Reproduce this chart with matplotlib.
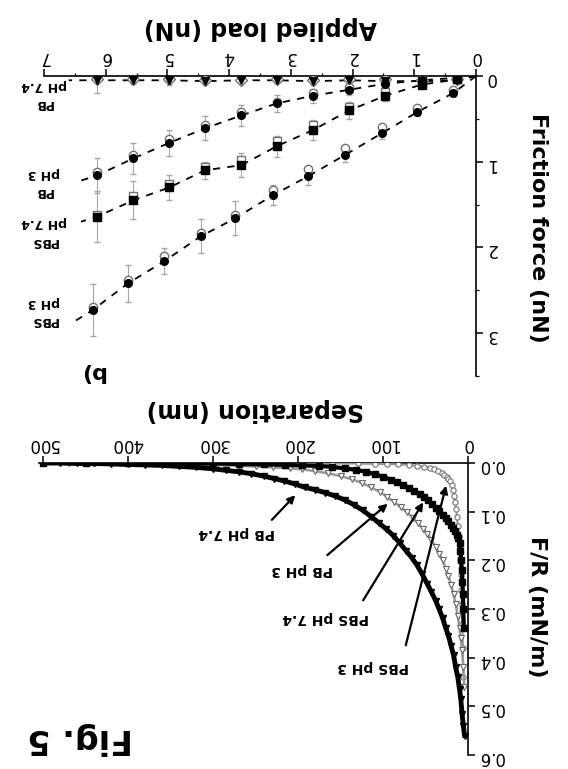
import matplotlib
matplotlib.use("Agg")
from matplotlib import pyplot as plt
from matplotlib.ticker import MultipleLocator

# The whole figure in the reference is printed upside down (rotated 180 deg),
# so both panels are drawn with inverted axes and text turned by 180 deg.

W, H = 568, 769

# ---- panel b: friction force vs applied load (two runs per system)
load = [0.31, 0.88, 1.47, 2.05, 2.64, 3.23, 3.80, 4.39, 4.97, 5.55, 6.14]
load_pbs3 = [0.37, 0.95, 1.53, 2.12, 2.72, 3.29, 3.90, 4.46, 5.05, 5.64, 6.21]

pb74_fill = [0.05, 0.06, 0.06, 0.05, 0.06, 0.05, 0.05, 0.06, 0.05, 0.05, 0.05]
pb74_open = [0.04, 0.05, 0.04, 0.04, 0.05, 0.04, 0.05, 0.05, 0.04, 0.04, 0.04]
pb74_err = [0.02, 0.03, 0.04, 0.05, 0.04, 0.03, 0.03, 0.03, 0.05, 0.04, 0.15]

pb3_fill = [0.02, 0.05, 0.09, 0.16, 0.23, 0.32, 0.46, 0.61, 0.78, 0.96, 1.16]
pb3_open = [0.02, 0.04, 0.08, 0.13, 0.20, 0.30, 0.42, 0.57, 0.73, 0.92, 1.12]
pb3_err = [0.02, 0.03, 0.05, 0.06, 0.08, 0.10, 0.12, 0.14, 0.15, 0.18, 0.20]

pbs74_fill = [0.04, 0.10, 0.23, 0.40, 0.63, 0.82, 1.04, 1.10, 1.30, 1.45, 1.64]
pbs74_open = [0.03, 0.08, 0.19, 0.36, 0.57, 0.76, 0.98, 1.06, 1.26, 1.40, 1.62]
pbs74_err = [0.02, 0.04, 0.06, 0.10, 0.12, 0.12, 0.14, 0.10, 0.15, 0.22, 0.30]

pbs3_fill = [0.20, 0.42, 0.67, 0.92, 1.17, 1.39, 1.66, 1.87, 2.16, 2.42, 2.73]
pbs3_open = [0.16, 0.37, 0.60, 0.84, 1.08, 1.33, 1.62, 1.83, 2.10, 2.38, 2.70]
pbs3_err = [0.03, 0.05, 0.06, 0.08, 0.10, 0.12, 0.20, 0.20, 0.15, 0.22, 0.30]

# where the dashed guide lines stop (near the labels)
dash_end_load = [6.6, 6.4, 6.4, 6.5]
dash_end_fric = [0.05, 1.22, 1.70, 2.86]

names_b = ["PB\npH 7.4", "PB\npH 3", "PBS\npH 7.4", "PBS\npH 3"]
label_fric_b = [0.22, 1.24, 1.82, 2.75]

# ---- panel a: F/R vs separation
sep_pb74 = [500, 480, 460, 440, 420, 400, 380, 360, 340, 320, 300, 285, 270,
            255, 240, 228, 216, 204, 192, 180, 168, 156, 145, 134, 124, 114,
            105, 96, 88, 80, 73, 66, 60, 54, 48, 43, 38, 34, 30, 26, 23, 20,
            17, 14.5, 12, 10, 8.5, 7, 5.5, 4]
fr_pb74 = [0, 0, 0.001, 0.001, 0.002, 0.003, 0.004, 0.005, 0.007, 0.009,
           0.012, 0.015, 0.018, 0.022, 0.027, 0.032, 0.037, 0.043, 0.05,
           0.055, 0.061, 0.068, 0.076, 0.086, 0.097, 0.11, 0.123, 0.136,
           0.149, 0.165, 0.18, 0.195, 0.21, 0.228, 0.248, 0.265, 0.283, 0.30,
           0.318, 0.34, 0.355, 0.375, 0.395, 0.42, 0.44, 0.465, 0.485, 0.515,
           0.54, 0.56]

sep_pb3 = [500, 470, 440, 410, 380, 350, 320, 295, 270, 250, 230, 210, 195,
           180, 165, 150, 137, 125, 114, 104, 95, 87, 79, 72, 65, 59, 53, 48,
           43, 38, 34, 30, 26, 23, 20, 17, 14.5, 12, 10, 8.5, 7, 5.5, 4.5]
fr_pb3 = [0, 0, 0, 0, 0.001, 0.002, 0.003, 0.004, 0.006, 0.007, 0.009, 0.011,
          0.013, 0.017, 0.021, 0.027, 0.033, 0.041, 0.05, 0.059, 0.07, 0.08,
          0.091, 0.101, 0.112, 0.124, 0.135, 0.145, 0.158, 0.172, 0.186, 0.2,
          0.217, 0.232, 0.25, 0.27, 0.29, 0.315, 0.34, 0.36, 0.385, 0.42,
          0.46]

sep_pbs74 = [500, 450, 400, 350, 300, 270, 240, 215, 195, 175, 160, 145, 132,
             120, 110, 100, 91, 83, 76, 69, 63, 57, 52, 47, 42, 38, 34, 30, 26,
             23, 20, 17.5, 15, 13, 11.5, 10, 9, 8, 7.2, 6.5, 6, 5.5, 5]
fr_pbs74 = [0, 0, 0, 0.001, 0.001, 0.002, 0.003, 0.004, 0.005, 0.006, 0.008,
            0.011, 0.014, 0.018, 0.023, 0.028, 0.034, 0.04, 0.046, 0.052,
            0.058, 0.064, 0.07, 0.077, 0.085, 0.092, 0.099, 0.106, 0.113,
            0.12, 0.127, 0.133, 0.14, 0.147, 0.155, 0.165, 0.18, 0.2, 0.22,
            0.245, 0.27, 0.3, 0.34]

sep_pbs3 = [500, 440, 380, 320, 260, 200, 160, 130, 110, 95, 82, 70, 60, 52,
            45, 40, 35, 31, 28, 25, 23, 21, 19, 17.5, 16, 15, 14, 13, 12, 11,
            10, 9.2, 8.5, 7.8, 7.2, 6.6, 6, 5.5]
fr_pbs3 = [0, 0, 0, 0, 0, 0, 0.001, 0.001, 0.002, 0.002, 0.003, 0.004, 0.006,
           0.008, 0.01, 0.013, 0.016, 0.02, 0.024, 0.028, 0.032, 0.037, 0.045,
           0.055, 0.068, 0.08, 0.095, 0.11, 0.13, 0.15, 0.175, 0.2, 0.23,
           0.26, 0.29, 0.33, 0.38, 0.44]

names_a = ["PB pH 7.4", "PB pH 3", "PBS pH 7.4", "PBS pH 3"]
text_a = [(272, 0.144), (195, 0.22), (168, 0.318), (112, 0.419)]
arrow_tail = [(233, 0.121), (168, 0.193), (125, 0.287), (74, 0.38)]
arrow_head = [(201, 0.062), (92, 0.08), (51, 0.076), (25, 0.041)]

fig = plt.figure(figsize=(W / 100, H / 100), dpi=100)


def fx(x):
    return x / W


def fy(y):
    return 1 - y / H


def style_axes(ax):
    for side in ["left", "bottom"]:
        ax.spines[side].set_visible(False)
    for side in ["top", "right"]:
        ax.spines[side].set_linewidth(1.2)
    ax.xaxis.tick_top()
    ax.yaxis.tick_right()
    ax.tick_params(which="major", direction="out", length=5, width=1.1,
                   pad=2, labelsize=12, labelrotation=180)
    ax.tick_params(which="minor", direction="out", length=2.5, width=0.9)
    ax.patch.set_alpha(0)


# ---------------- panel b
ax_b = fig.add_axes([fx(44), fy(376), fx(476 - 44), 300 / H])
style_axes(ax_b)
ax_b.set_xlim(7, 0)
ax_b.set_ylim(3.5, 0)
ax_b.xaxis.set_major_locator(MultipleLocator(1))
ax_b.xaxis.set_minor_locator(MultipleLocator(0.5))
ax_b.yaxis.set_major_locator(MultipleLocator(1))
ax_b.yaxis.set_minor_locator(MultipleLocator(0.5))

series_b = [
    (load, pb74_fill, pb74_open, pb74_err, "v", "D"),
    (load, pb3_fill, pb3_open, pb3_err, "o", "o"),
    (load, pbs74_fill, pbs74_open, pbs74_err, "s", "s"),
    (load_pbs3, pbs3_fill, pbs3_open, pbs3_err, "o", "o"),
]
for i, (xs, yf, yo, ye, mf, mo) in enumerate(series_b):
    ax_b.errorbar(xs, yf, yerr=ye, fmt="none", ecolor="0.65", elinewidth=0.8,
                  capsize=2, zorder=2)
    ax_b.plot([0] + xs + [dash_end_load[i]], [0] + yf + [dash_end_fric[i]],
              ls=(0, (4, 4)), color="k", lw=1.3, zorder=3)
    ax_b.plot(xs, yo, ls="none", marker=mo, ms=6, mfc="white", mec="0.45",
              mew=1.0, zorder=4)
    ax_b.plot(xs, yf, ls="none", marker=mf, ms=5.5, color="k", zorder=5)
    ax_b.text(7.0, label_fric_b[i], names_b[i], rotation=180, ha="center",
              va="center", fontsize=9, fontweight="bold", linespacing=1.5,
              multialignment="center", clip_on=False)

# ---------------- panel a
ax_a = fig.add_axes([fx(38.75), fy(755), fx(468 - 38.75), 292 / H])
style_axes(ax_a)
ax_a.set_xlim(505, 0)
ax_a.set_ylim(0.6, 0)
ax_a.xaxis.set_major_locator(MultipleLocator(100))
ax_a.yaxis.set_major_locator(MultipleLocator(0.1))
ax_a.yaxis.set_major_formatter(matplotlib.ticker.FormatStrFormatter("%.1f"))

ax_a.plot(sep_pbs3, fr_pbs3, color="0.6", lw=1.5, marker="o", ms=3.8,
          mfc="white", mec="0.45", mew=0.8, zorder=3)
ax_a.plot(sep_pb3, fr_pb3, color="0.6", lw=1.8, marker="v", ms=4.5,
          mfc="white", mec="0.4", mew=0.8, zorder=3)
ax_a.plot(sep_pbs74, fr_pbs74, color="k", lw=3, marker="s", ms=3.8, zorder=4)
ax_a.plot(sep_pb74, fr_pb74, color="k", lw=3.5, marker="v", ms=5, zorder=5)

for i, name in enumerate(names_a):
    ax_a.text(text_a[i][0], text_a[i][1], name, rotation=180, ha="center",
              va="center", fontsize=10, fontweight="bold")
    ax_a.annotate("", xy=arrow_head[i], xytext=arrow_tail[i],
                  arrowprops=dict(arrowstyle="-|>", color="k", lw=1.6,
                                  mutation_scale=11))

# ---------------- axis titles (rotated with the page)
fig.text(fx(260), fy(28), "Applied load (nN)", rotation=180, ha="center",
         va="center", fontsize=17, fontweight="bold")
fig.text(fx(538), fy(228), "Friction force (nN)", rotation=-90, ha="center",
         va="center", fontsize=16, fontweight="bold")
fig.text(fx(92), fy(372), "b)", rotation=180, ha="center", va="center",
         fontsize=16, fontweight="bold")
fig.text(fx(255), fy(410), "Separation (nm)", rotation=180, ha="center",
         va="center", fontsize=17, fontweight="bold")
fig.text(fx(537), fy(607), "F/R (mN/m)", rotation=-90, ha="center",
         va="center", fontsize=16, fontweight="bold")
fig.text(fx(80), fy(739), "Fig. 5", rotation=180, ha="center", va="center",
         fontsize=24, fontweight="bold")

fig.savefig("out.png", dpi=100)
